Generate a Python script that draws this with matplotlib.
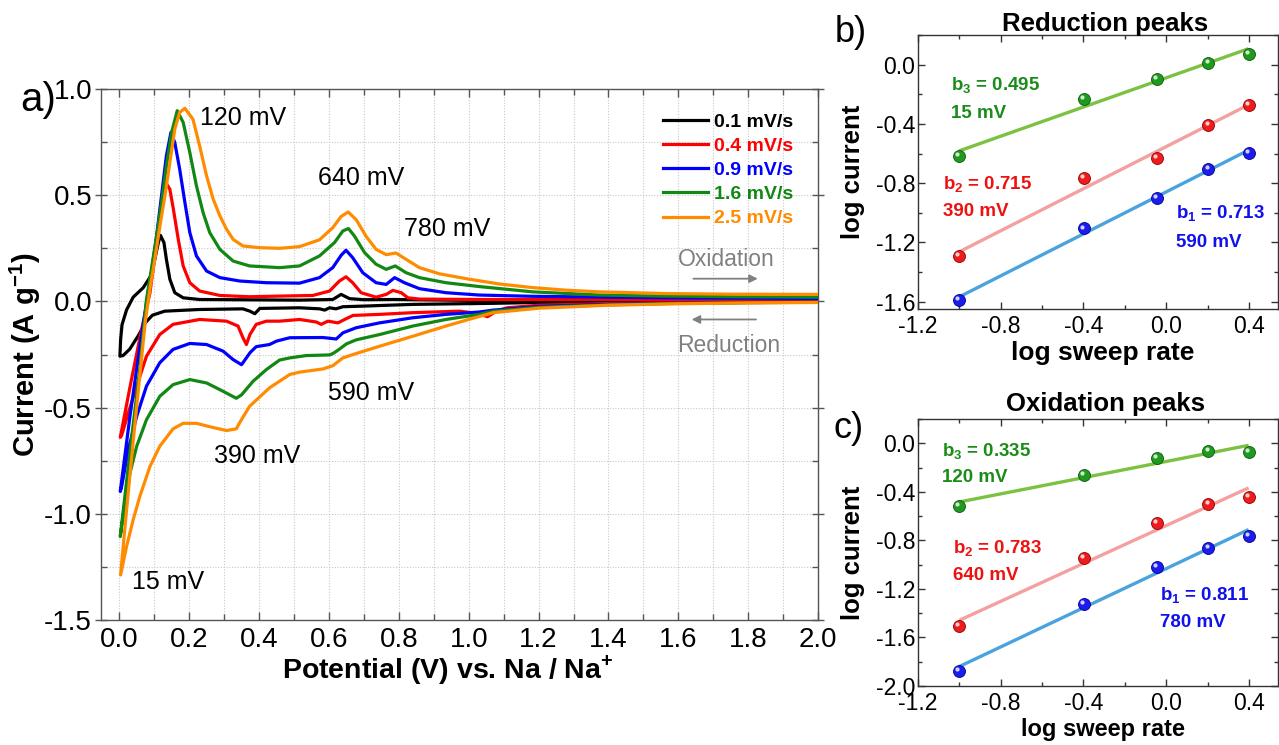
import numpy as np
import matplotlib
matplotlib.use("Agg")
import matplotlib.pyplot as plt
from matplotlib import font_manager
from matplotlib.transforms import offset_copy
from matplotlib.ticker import MultipleLocator, FormatStrFormatter

# ---------------- data: panel a (CV curves) ----------------
rates = ["0.1 mV/s", "0.4 mV/s", "0.9 mV/s", "1.6 mV/s", "2.5 mV/s"]
colors = ["#000000", "#ff0000", "#0000ff", "#118811", "#ff8c00"]

# 0.1 mV/s
v_cat_01 = [2.0, 1.5, 1.2, 1.07, 0.84, 0.70, 0.64, 0.62, 0.602, 0.588, 0.574, 0.516, 0.402, 0.388, 0.374, 0.354,
            0.23, 0.13, 0.095, 0.075, 0.055, 0.030, 0.011, 0.002]
i_cat_01 = [-0.002, -0.003, -0.005, -0.009, -0.014, -0.022, -0.025, -0.035, -0.030, -0.041, -0.035, -0.030, -0.033,
            -0.058, -0.046, -0.035, -0.038, -0.046, -0.065, -0.100, -0.160, -0.225, -0.255, -0.258]
v_an_01 = [0.002, 0.004, 0.008, 0.021, 0.040, 0.069, 0.090, 0.102, 0.112, 0.118, 0.128, 0.135, 0.145, 0.159, 0.183,
           0.230, 0.516, 0.611, 0.635, 0.659, 0.700, 0.783, 1.0, 2.0]
i_an_01 = [-0.258, -0.180, -0.110, -0.040, 0.020, 0.065, 0.119, 0.200, 0.277, 0.311, 0.277, 0.198, 0.104, 0.041,
           0.017, 0.009, 0.006, 0.009, 0.033, 0.013, 0.008, 0.009, 0.005, 0.004]

# 0.4 mV/s
v_cat_04 = [2.0, 1.6, 1.4, 1.2, 1.11, 1.08, 1.054, 1.02, 0.973, 0.84, 0.745, 0.669, 0.645, 0.626, 0.597, 0.578,
            0.564, 0.516, 0.459, 0.421, 0.392, 0.374, 0.364, 0.354, 0.340, 0.307, 0.230, 0.154, 0.116, 0.078,
            0.050, 0.026, 0.007, 0.003]
i_cat_04 = [-0.003, -0.006, -0.010, -0.018, -0.030, -0.045, -0.072, -0.055, -0.046, -0.053, -0.061, -0.066,
            -0.085, -0.101, -0.093, -0.108, -0.097, -0.085, -0.093, -0.093, -0.108, -0.156, -0.203, -0.171,
            -0.116, -0.093, -0.085, -0.108, -0.156, -0.258, -0.399, -0.525, -0.630, -0.640]
v_an_04 = [0.003, 0.035, 0.064, 0.088, 0.097, 0.107, 0.116, 0.126, 0.135, 0.145, 0.155, 0.169, 0.183, 0.202,
           0.230, 0.288, 0.373, 0.459, 0.554, 0.602, 0.630, 0.649, 0.668, 0.692, 0.735, 0.764, 0.783, 0.807,
           0.826, 0.859, 1.03, 1.5, 2.0]
i_an_04 = [-0.640, -0.368, -0.132, 0.041, 0.151, 0.261, 0.371, 0.481, 0.555, 0.528, 0.434, 0.292, 0.167, 0.088,
           0.049, 0.028, 0.022, 0.025, 0.028, 0.049, 0.096, 0.116, 0.088, 0.041, 0.020, 0.033, 0.052, 0.041,
           0.017, 0.011, 0.009, 0.009, 0.009]

# 0.9 mV/s
v_cat_09 = [2.0, 1.8, 1.6, 1.4, 1.2, 1.07, 1.03, 0.935, 0.84, 0.745, 0.678, 0.64, 0.621, 0.583, 0.488, 0.45,
            0.43, 0.392, 0.375, 0.350, 0.326, 0.297, 0.250, 0.202, 0.154, 0.116, 0.078, 0.050, 0.026, 0.007, 0.003]
i_cat_09 = [-0.004, -0.005, -0.008, -0.014, -0.024, -0.041, -0.050, -0.061, -0.077, -0.101, -0.124, -0.148,
            -0.177, -0.170, -0.171, -0.187, -0.203, -0.213, -0.240, -0.298, -0.274, -0.234, -0.203, -0.198,
            -0.226, -0.289, -0.399, -0.541, -0.698, -0.871, -0.895]
v_an_09 = [0.003, 0.030, 0.060, 0.078, 0.092, 0.107, 0.121, 0.135, 0.148, 0.159, 0.173, 0.188, 0.202, 0.221,
           0.250, 0.288, 0.345, 0.421, 0.516, 0.573, 0.611, 0.635, 0.649, 0.668, 0.697, 0.735, 0.764, 0.788,
           0.816, 0.859, 0.935, 1.03, 1.183, 1.563, 2.0]
i_an_09 = [-0.895, -0.550, -0.200, -0.006, 0.135, 0.308, 0.497, 0.686, 0.796, 0.748, 0.623, 0.465, 0.324, 0.214,
           0.143, 0.112, 0.096, 0.088, 0.086, 0.112, 0.159, 0.217, 0.241, 0.206, 0.135, 0.088, 0.080, 0.112,
           0.088, 0.060, 0.041, 0.030, 0.024, 0.017, 0.014]

# 1.6 mV/s
v_cat_16 = [2.0, 1.8, 1.6, 1.4, 1.2, 1.07, 1.03, 0.935, 0.84, 0.745, 0.678, 0.650, 0.630, 0.612, 0.602, 0.535,
            0.488, 0.459, 0.421, 0.383, 0.350, 0.335, 0.297, 0.250, 0.202, 0.154, 0.116, 0.078, 0.050, 0.026,
            0.007, 0.003]
i_cat_16 = [-0.004, -0.006, -0.009, -0.016, -0.028, -0.046, -0.061, -0.085, -0.116, -0.156, -0.181, -0.200,
            -0.225, -0.245, -0.252, -0.255, -0.266, -0.276, -0.321, -0.376, -0.440, -0.456, -0.423, -0.384,
            -0.368, -0.392, -0.447, -0.557, -0.682, -0.840, -1.060, -1.107]
v_an_16 = [0.003, 0.030, 0.060, 0.078, 0.092, 0.107, 0.121, 0.135, 0.150, 0.166, 0.183, 0.202, 0.221, 0.240,
           0.259, 0.288, 0.326, 0.373, 0.459, 0.516, 0.573, 0.616, 0.640, 0.656, 0.673, 0.702, 0.735, 0.764,
           0.790, 0.821, 0.859, 0.935, 1.03, 1.183, 1.373, 1.563, 1.754, 2.0]
i_an_16 = [-1.107, -0.720, -0.300, 0.009, 0.151, 0.308, 0.465, 0.638, 0.796, 0.898, 0.843, 0.701, 0.544, 0.418,
           0.324, 0.245, 0.190, 0.167, 0.159, 0.167, 0.214, 0.277, 0.332, 0.343, 0.308, 0.230, 0.175, 0.151,
           0.167, 0.135, 0.112, 0.088, 0.070, 0.045, 0.030, 0.025, 0.022, 0.020]

# 2.5 mV/s
v_cat_25 = [2.0, 1.8, 1.6, 1.4, 1.2, 1.07, 1.0, 0.935, 0.84, 0.745, 0.669, 0.640, 0.611, 0.583, 0.516, 0.488,
            0.430, 0.373, 0.345, 0.335, 0.307, 0.259, 0.221, 0.183, 0.154, 0.116, 0.088, 0.059, 0.040, 0.021, 0.004]
i_cat_25 = [-0.005, -0.007, -0.011, -0.018, -0.032, -0.053, -0.085, -0.116, -0.164, -0.211, -0.250, -0.266,
            -0.303, -0.318, -0.333, -0.344, -0.407, -0.494, -0.570, -0.600, -0.608, -0.590, -0.574, -0.574,
            -0.600, -0.682, -0.777, -0.918, -1.028, -1.154, -1.288]
v_an_25 = [0.004, 0.020, 0.040, 0.060, 0.075, 0.088, 0.102, 0.116, 0.131, 0.145, 0.159, 0.173, 0.188, 0.211,
           0.230, 0.250, 0.269, 0.288, 0.307, 0.326, 0.354, 0.402, 0.459, 0.516, 0.573, 0.611, 0.635, 0.655,
           0.678, 0.707, 0.735, 0.764, 0.792, 0.821, 0.859, 0.916, 1.00, 1.088, 1.183, 1.278, 1.373, 1.563,
           1.754, 2.0]
i_an_25 = [-1.288, -1.000, -0.660, -0.330, -0.090, 0.060, 0.200, 0.350, 0.500, 0.654, 0.811, 0.890, 0.909,
           0.858, 0.733, 0.591, 0.481, 0.403, 0.340, 0.292, 0.261, 0.253, 0.250, 0.258, 0.290, 0.347, 0.400,
           0.421, 0.385, 0.305, 0.245, 0.220, 0.228, 0.198, 0.159, 0.130, 0.105, 0.082, 0.065, 0.053, 0.045,
           0.037, 0.034, 0.033]

# ---------------- data: panels b and c ----------------
log_rate = [-1.0, -0.398, -0.046, 0.204, 0.398]
red_15mV = [-0.617, -0.233, -0.094, 0.011, 0.074]
red_390mV = [-1.290, -0.767, -0.628, -0.406, -0.274]
red_590mV = [-1.586, -1.106, -0.902, -0.704, -0.594]
ox_120mV = [-0.514, -0.260, -0.120, -0.062, -0.075]
ox_640mV = [-1.505, -0.942, -0.659, -0.503, -0.439]
ox_780mV = [-1.874, -1.323, -1.020, -0.859, -0.766]

# ---------------- fonts ----------------
avail = {f.name for f in font_manager.fontManager.ttflist}
base_font = "Liberation Sans" if "Liberation Sans" in avail else "DejaVu Sans"

plt.rcParams["font.family"] = [base_font, "DejaVu Sans"]
plt.rcParams["axes.unicode_minus"] = False
plt.rcParams["mathtext.fontset"] = "custom"
plt.rcParams["mathtext.rm"] = base_font
plt.rcParams["mathtext.bf"] = base_font + ":bold"

fig = plt.figure(figsize=(12.79, 7.45), dpi=100)

# ================= panel a =================
axa = fig.add_axes([0.079, 0.1678, 0.5607, 0.7127])
curves = [
    (v_cat_01, i_cat_01, v_an_01, i_an_01),
    (v_cat_04, i_cat_04, v_an_04, i_an_04),
    (v_cat_09, i_cat_09, v_an_09, i_an_09),
    (v_cat_16, i_cat_16, v_an_16, i_an_16),
    (v_cat_25, i_cat_25, v_an_25, i_an_25),
]
handles = []
for (vc, ic, va, ia), col, lab in zip(curves, colors, rates):
    v = list(vc) + list(va)
    i = list(ic) + list(ia)
    h, = axa.plot(v, i, color=col, lw=2.3, label=lab, solid_joinstyle="round", zorder=3)
    handles.append(h)

axa.set_xlim(-0.052, 2.0)
axa.set_ylim(-1.5, 1.0)
axa.xaxis.set_major_locator(MultipleLocator(0.2))
axa.xaxis.set_minor_locator(MultipleLocator(0.1))
axa.yaxis.set_major_locator(MultipleLocator(0.5))
axa.yaxis.set_minor_locator(MultipleLocator(0.25))
axa.xaxis.set_major_formatter(FormatStrFormatter("%.1f"))
axa.yaxis.set_major_formatter(FormatStrFormatter("%.1f"))
axa.grid(True, which="both", color="#c8c8c8", linestyle=(0, (1, 1.5)), lw=0.8, zorder=0)
axa.tick_params(which="both", direction="in", top=True, right=True, color="#555555")
axa.tick_params(which="major", length=6, width=1)
axa.tick_params(which="minor", length=4, width=1)
axa.tick_params(axis="y", which="major", direction="inout", length=9, labelsize=20, pad=2)
axa.tick_params(axis="x", which="major", labelsize=20, pad=5)
for sp in axa.spines.values():
    sp.set_color("#555555")
    sp.set_linewidth(1.0)

axa.set_ylabel(r"Current (A g$^{\mathbf{-1}}$)", fontsize=21, fontweight="bold")
axa.yaxis.set_label_coords(-0.081, 0.5)
axa.set_xlabel(r"Potential (V) vs. Na / Na$^{\mathbf{+}}$", fontsize=20.5, fontweight="bold")
axa.xaxis.set_label_coords(0.483, -0.062)

leg = axa.legend(handles=handles, loc="upper left", bbox_to_anchor=(0.784, 0.955), frameon=False,
                 fontsize=14, handlelength=2.3, handletextpad=0.3, labelspacing=0.34, borderpad=0,
                 borderaxespad=0)
for t, col in zip(leg.get_texts(), colors):
    t.set_color(col)
    t.set_fontweight("bold")

txt_kw = dict(fontsize=18, va="center", ha="left", color="black")
axa.text(0.23, 0.862, "120 mV", **txt_kw)
axa.text(0.569, 0.579, "640 mV", **txt_kw)
axa.text(0.816, 0.340, "780 mV", **txt_kw)
axa.text(0.597, -0.431, "590 mV", **txt_kw)
axa.text(0.271, -0.730, "390 mV", **txt_kw)
axa.text(0.038, -1.319, "15 mV", **txt_kw)

axa.text(1.599, 0.198, "Oxidation", fontsize=16.5, color="#808080", va="center", ha="left")
axa.annotate("", xy=(1.835, 0.107), xytext=(1.635, 0.107),
             arrowprops=dict(arrowstyle="-|>", color="#808080", lw=1.3, mutation_scale=12))
axa.text(1.597, -0.206, "Reduction", fontsize=16.5, color="#808080", va="center", ha="left")
axa.annotate("", xy=(1.63, -0.085), xytext=(1.83, -0.085),
             arrowprops=dict(arrowstyle="-|>", color="#808080", lw=1.3, mutation_scale=12))

fig.text(0.016, 0.866, "a)", fontsize=29, va="center", ha="left")

# ================= panels b and c =================
fit_colors = ["#7dc142", "#f4a0a0", "#4aa3dc"]
pt_colors = ["#1f9a1f", "#ee1c1c", "#1c1cee"]
pt_dark = ["#0a5a0a", "#900000", "#00008a"]
txt_colors = ["#1a8c1a", "#ee1111", "#1111ee"]


def spheres(ax, x, y, color, dark):
    ax.plot(x, y, "o", ms=8.6, mfc=color, mec=dark, mew=0.6, zorder=4)
    tr = offset_copy(ax.transData, fig=fig, x=-1.4, y=1.4, units="points")
    ax.plot(x, y, "o", ms=3.0, mfc="white", mec="none", alpha=0.8, transform=tr, zorder=5)


def small_panel(rect, series, ylim, yticks, title, labels, label_pos, letter, letter_pos, xlabel_y, title_y,
                xpad, xlabel_size):
    ax = fig.add_axes(rect)
    for k, s in enumerate(series):
        p = np.polyfit(log_rate, s, 1)
        xs = np.array([log_rate[0], log_rate[-1]])
        ax.plot(xs, np.polyval(p, xs), color=fit_colors[k], lw=2.4, zorder=2, solid_capstyle="butt")
        spheres(ax, log_rate, s, pt_colors[k], pt_dark[k])
    ax.set_xlim(-1.2, 0.54)
    ax.set_ylim(*ylim)
    ax.set_xticks([-1.2, -0.8, -0.4, 0.0, 0.4])
    ax.set_yticks(yticks)
    ax.xaxis.set_minor_locator(MultipleLocator(0.2))
    ax.yaxis.set_minor_locator(MultipleLocator(0.2))
    ax.xaxis.set_major_formatter(FormatStrFormatter("%.1f"))
    ax.yaxis.set_major_formatter(FormatStrFormatter("%.1f"))
    ax.tick_params(which="both", direction="in", top=True, right=True, color="#333333", labelsize=16.5)
    ax.tick_params(which="major", length=5, width=1)
    ax.tick_params(which="minor", length=3, width=1)
    ax.tick_params(axis="y", pad=2)
    ax.tick_params(axis="x", pad=xpad)
    for sp in ax.spines.values():
        sp.set_color("#333333")
        sp.set_linewidth(1.0)
    ax.set_ylabel("log current", fontsize=18.5, fontweight="bold")
    ax.yaxis.set_label_coords(-0.146, 0.5)
    ax.set_xlabel("log sweep rate", fontsize=xlabel_size, fontweight="bold")
    ax.xaxis.set_label_coords(0.514, xlabel_y)
    ax.text(0.52, title_y, title, transform=ax.transAxes, fontsize=18.5, fontweight="bold",
            ha="center", va="center")
    for k, (lines, (x0, y0, dy)) in enumerate(zip(labels, label_pos)):
        ax.text(x0, y0, lines[0], color=txt_colors[k], fontsize=13.5, fontweight="bold", ha="left", va="center")
        ax.text(x0, y0 - dy, lines[1], color=txt_colors[k], fontsize=13.5, fontweight="bold", ha="left",
                va="center")
    fig.text(letter_pos[0], letter_pos[1], letter, fontsize=26, ha="left", va="center")
    return ax


small_panel([0.7177, 0.5852, 0.2815, 0.3678],
            [red_15mV, red_390mV, red_590mV], (-1.65, 0.2), [0.0, -0.4, -0.8, -1.2, -1.6],
            "Reduction peaks",
            [(r"b$_{\mathbf{3}}$ = 0.495", "15 mV"), (r"b$_{\mathbf{2}}$ = 0.715", "390 mV"),
             (r"b$_{\mathbf{1}}$ = 0.713", "590 mV")],
            [(-1.04, -0.146, 0.185), (-1.08, -0.81, 0.18), (0.048, -1.01, 0.19)],
            "b)", (0.653, 0.957), -0.117, 1.040, 4, 19)

small_panel([0.7177, 0.0792, 0.2815, 0.3584],
            [ox_120mV, ox_640mV, ox_780mV], (-2.0, 0.2), [0.0, -0.4, -0.8, -1.2, -1.6, -2.0],
            "Oxidation peaks",
            [(r"b$_{\mathbf{3}}$ = 0.335", "120 mV"), (r"b$_{\mathbf{2}}$ = 0.783", "640 mV"),
             (r"b$_{\mathbf{1}}$ = 0.811", "780 mV")],
            [(-1.085, -0.072, 0.214), (-1.03, -0.867, 0.22), (-0.03, -1.26, 0.215)],
            "c)", (0.652, 0.425), -0.121, 1.055, 4, 17)

fig.savefig("out.png", dpi=100)
